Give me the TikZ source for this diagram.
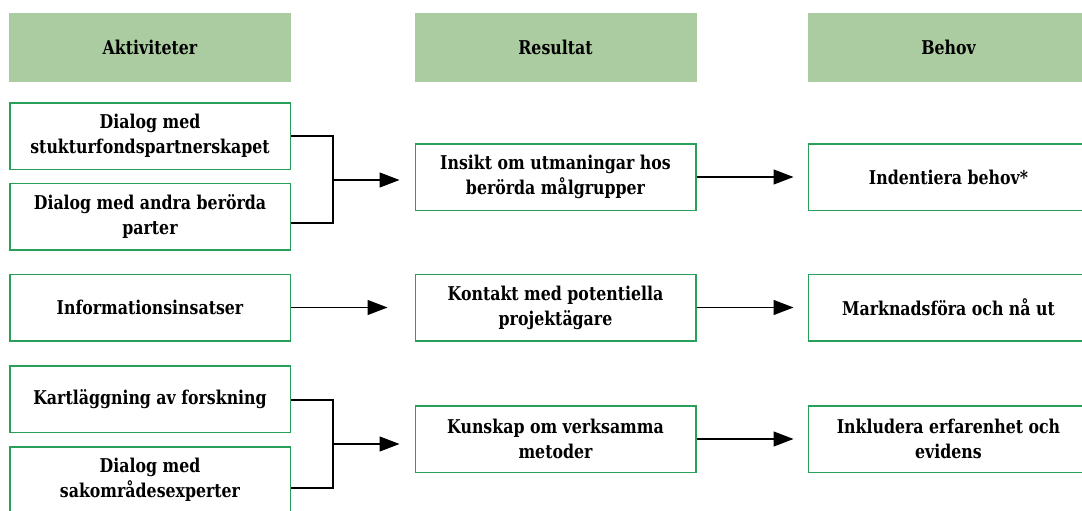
\documentclass[tikz,border=0pt]{standalone}
\usepackage{fontspec}
\setmainfont{DejaVu Serif}[FakeStretch=0.83]
\usetikzlibrary{arrows.meta}
\usetikzlibrary{calc}
\definecolor{headGreen}{RGB}{170,204,160}
\definecolor{lineGreen}{RGB}{40,160,90}
\tikzstyle{arrow} = [line width=1.3pt,-{Triangle[length=20pt,width=15pt]}]
\tikzstyle{link} = [line width=1.3pt]
\tikzstyle{head} = [fill=headGreen,minimum width=282pt,minimum height=69pt,inner sep=0pt,font=\fontsize{19}{25}\selectfont\bfseries]
\tikzstyle{box} = [draw=lineGreen,line width=1.5pt,fill=white,minimum width=280.5pt,minimum height=66.5pt,inner sep=0pt,align=center,font=\fontsize{19}{25}\selectfont\bfseries]

\begin{document}
\begin{tikzpicture}[x=1pt,y=-1pt]

    \useasboundingbox (0,0) rectangle (1082,511);
    \clip (0,0) rectangle (1082,511); % boxes on the right and bottom run off the page

  \node[head] (hAkt) at (150,47.5) {Aktiviteter};
  \node[head] (hRes) at (555.5,47.5) {Resultat};
  \node[head] (hBeh) at (948.5,47.5) {Behov};

  \node[box] (akt1) at (150,136) {Dialog med\\stukturfondspartnerskapet};
  \node[box] (akt2) at (150,216.5) {Dialog med andra berörda\\parter};
  \node[box] (akt3) at (150,307.5) {Informationsinsatser};
  \node[box] (akt4) at (150,399) {Kartläggning av forskning};
  \node[box] (akt5) at (150,480) {Dialog med\\sakområdesexperter};

  \node[box] (res1) at (555.5,177) {Insikt om utmaningar hos\\berörda målgrupper};
  \node[box] (res2) at (555.5,307.5) {Kontakt med potentiella\\projektägare};
  \node[box] (res3) at (555.5,439) {Kunskap om verksamma\\metoder};

  \node[box] (beh1) at (948.5,177) {Indentiera behov*};
  \node[box] (beh2) at (948.5,307.5) {Marknadsföra och nå ut};
  \node[box] (beh3) at (948.5,439) {Inkludera erfarenhet och\\evidens};

    \coordinate (j1) at (333,180);
    \coordinate (j2) at (333,444);

  \draw[link] (akt1.east) -| (j1);
  \draw[link] ([yshift=-6.5pt]akt2.east) -| (j1);
  \draw[arrow,shorten >=15pt] (j1) -- (j1 -| res1.west);

  \draw[arrow,shorten >=27pt] (akt3.east) -- (res2.west);

  \draw[link] ([yshift=-1pt]akt4.east) -| (j2);
  \draw[link] ([yshift=-8pt]akt5.east) -| (j2);
  \draw[arrow,shorten >=15pt] (j2) -- (j2 -| res3.west);

    \foreach \r in {1,2,3}{
      \draw[arrow,shorten >=14pt] (res\r.east) -- (beh\r.west);
    }

\end{tikzpicture}
\end{document}
